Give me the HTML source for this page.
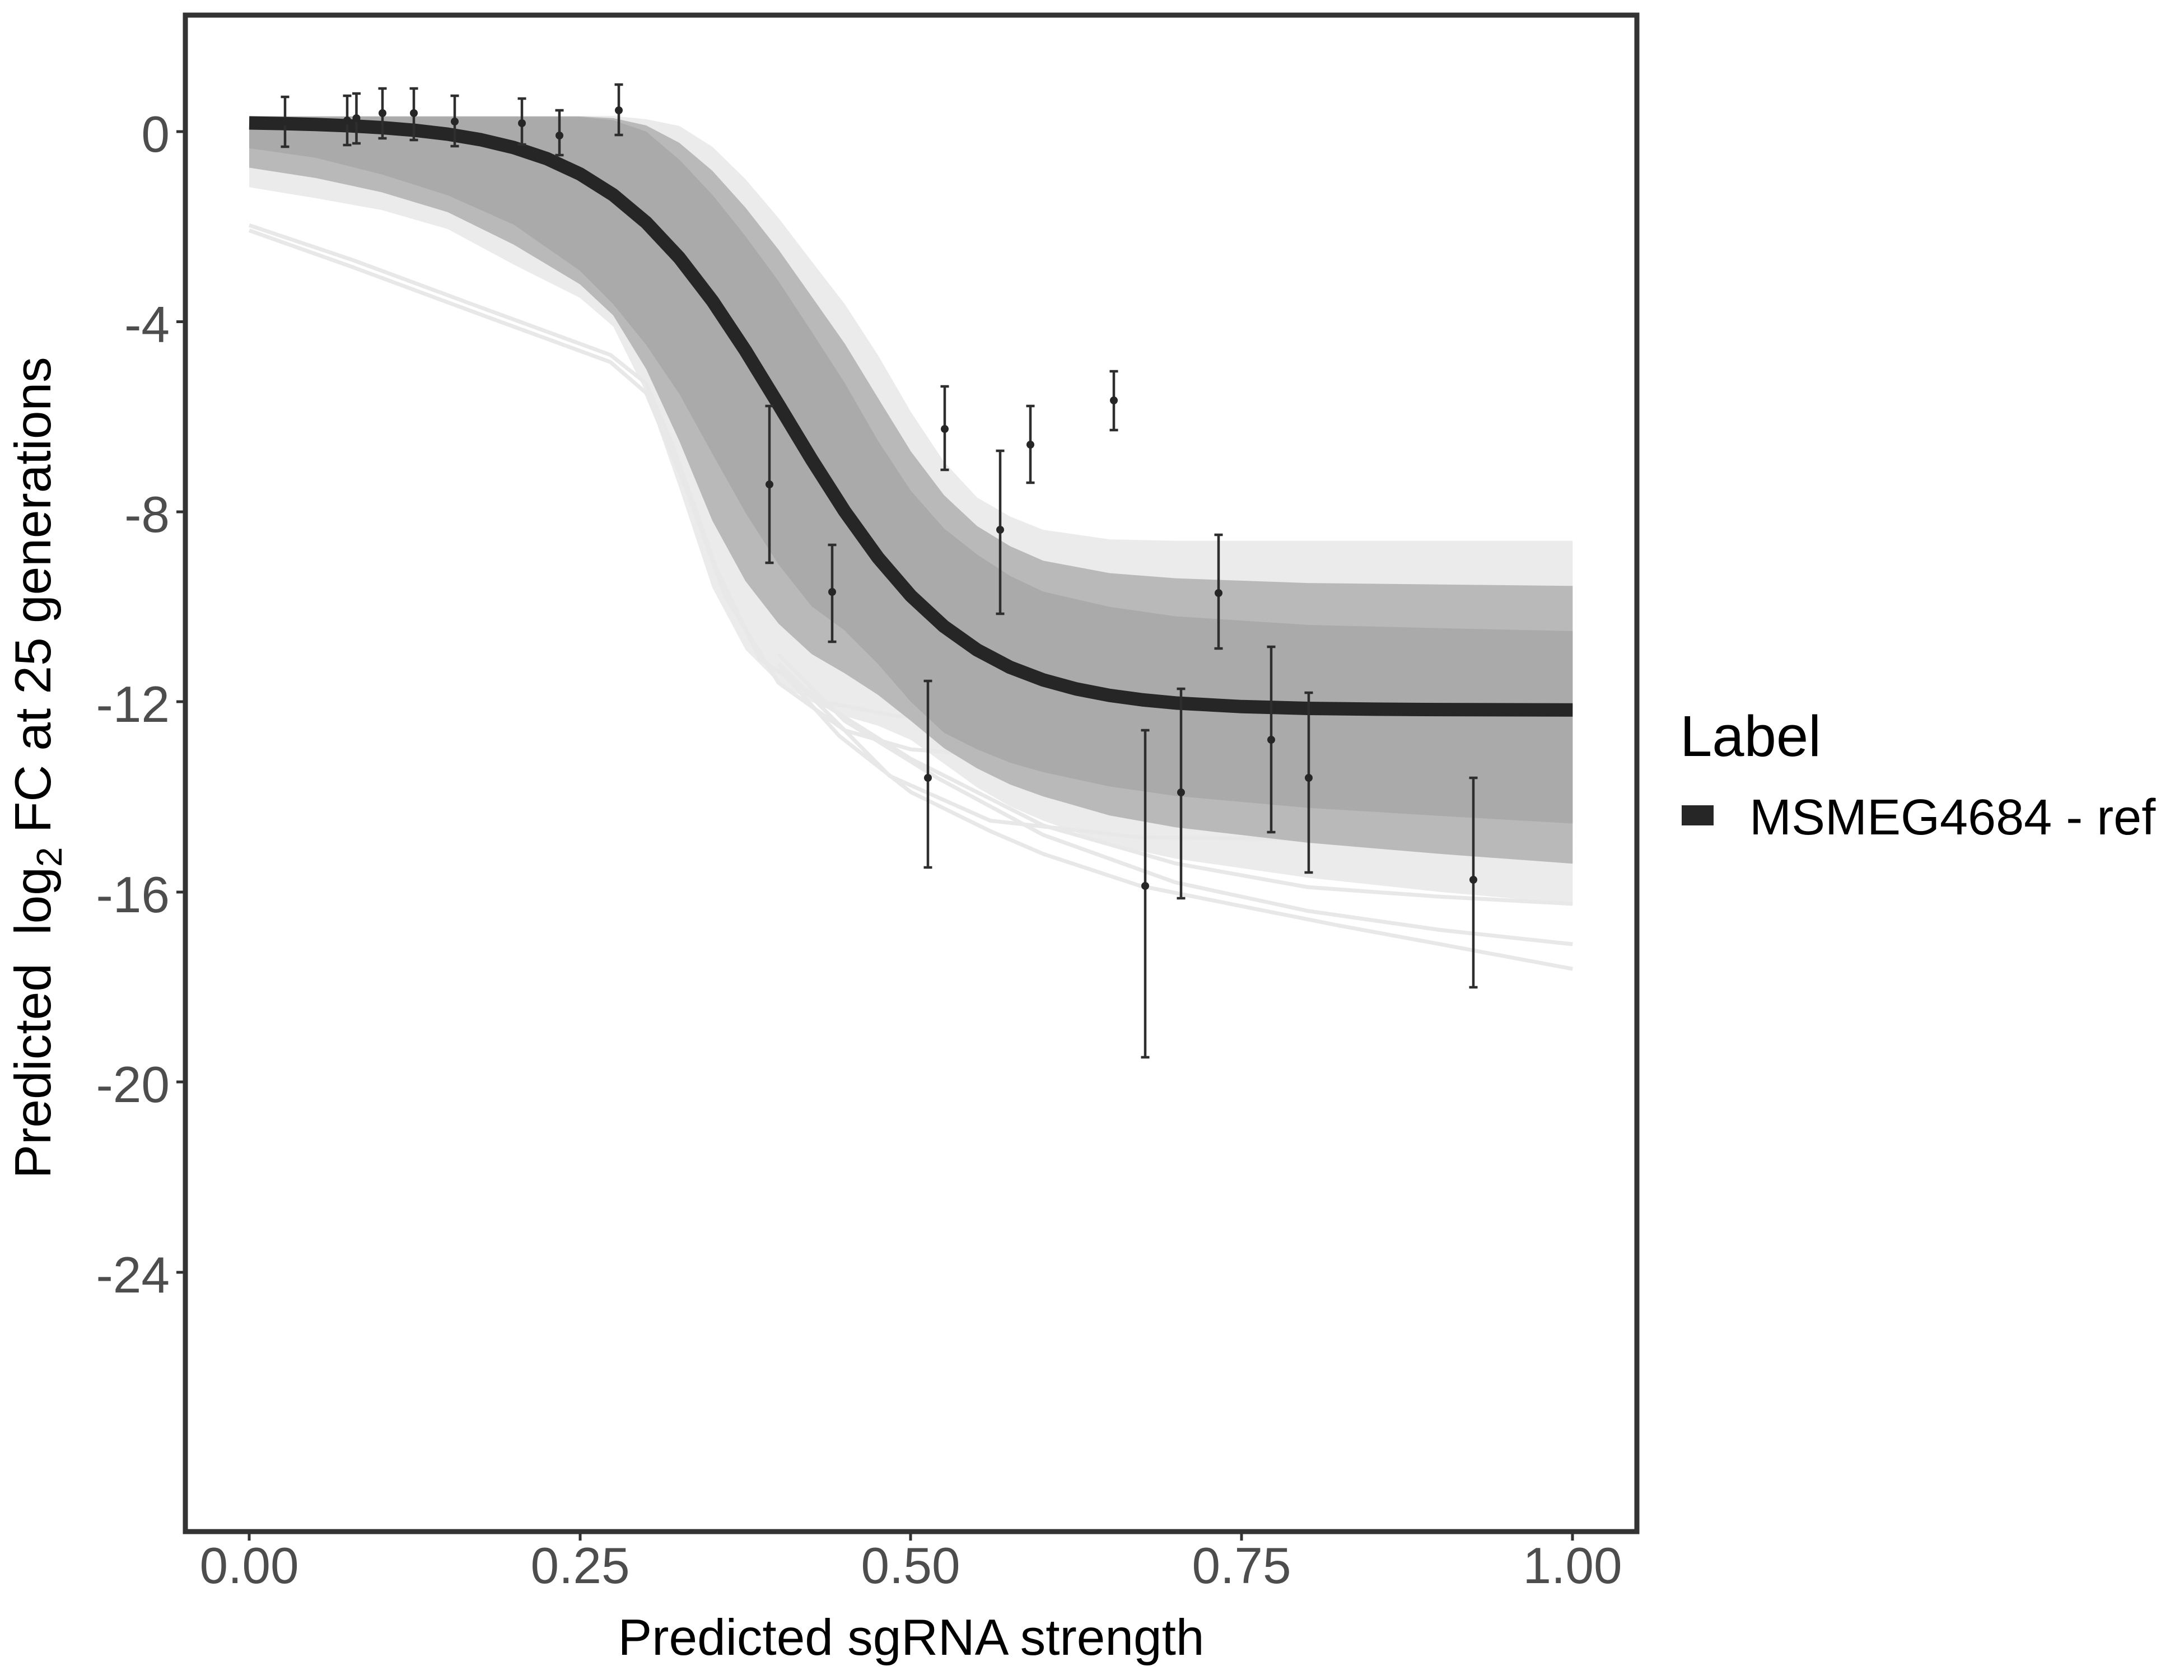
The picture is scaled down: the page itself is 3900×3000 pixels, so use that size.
<!DOCTYPE html>
<html>
<head>
<meta charset="utf-8">
<style>
  html, body { margin: 0; padding: 0; background: #ffffff; }
  svg { display: block; }
  text { font-family: "Liberation Sans", Arial, sans-serif; }
</style>
</head>
<body>
<svg xmlns="http://www.w3.org/2000/svg" width="3900" height="3000" viewBox="0 0 3900 3000">
  <rect x="0" y="0" width="3900" height="3000" fill="#ffffff"/>

  <!-- data-space group: x 0..1 -> 445..2808.3 ; y value -> 235 - 84.86*v -->
  <g transform="translate(445,235) scale(2363.3,-84.86)">
    <!-- faint envelope -->
    <polygon fill="#ebebeb" points="0,0.33 0.05,0.33 0.1,0.33 0.15,0.33 0.2,0.33 0.25,0.33 0.275,0.33 0.3,0.26 0.325,0.12 0.35,-0.32 0.375,-1.0 0.4,-1.82 0.425,-2.73 0.45,-3.63 0.475,-4.7 0.5,-5.9 0.525,-6.95 0.55,-7.7 0.575,-8.1 0.6,-8.38 0.65,-8.58 0.7,-8.61 0.8,-8.61 0.9,-8.61 1,-8.61 1,-16.25 0.9,-16.0 0.8,-15.7 0.7,-15.3 0.65,-15.0 0.6,-14.5 0.575,-14.2 0.55,-13.8 0.525,-13.3 0.5,-12.8 0.475,-12.5 0.45,-12.3 0.425,-12.0 0.4,-11.6 0.375,-10.9 0.35,-9.6 0.325,-7.5 0.3,-5.5 0.275,-4.1 0.25,-3.5 0.2,-2.8 0.15,-2.05 0.1,-1.65 0.05,-1.4 0,-1.17"/>
    <!-- individual faint lines -->
    <g fill="none" stroke="#e8e8e8" stroke-width="7">
      <polyline vector-effect="non-scaling-stroke" points="0,-1.97 0.078,-2.7 0.175,-3.7 0.273,-4.7 0.3,-5.3 0.32,-6.6 0.353,-9.2 0.386,-11.1 0.434,-12.0 0.489,-12.3 0.6,-12.4 1,-12.45"/>
      <polyline vector-effect="non-scaling-stroke" points="0,-2.08 0.078,-2.85 0.175,-3.85 0.273,-4.85 0.3,-5.5 0.33,-7.5 0.36,-9.8 0.4,-11.6 0.45,-12.6 0.5,-13.0 0.6,-13.2 1,-13.3"/>
      <polyline vector-effect="non-scaling-stroke" points="0.4,-11.3 0.446,-12.72 0.5,-13.9 0.56,-14.72 0.6,-15.2 0.673,-15.87 0.75,-16.3 0.824,-16.71 0.9,-17.1 1,-17.62"/>
      <polyline vector-effect="non-scaling-stroke" points="0.4,-11.0 0.45,-12.4 0.52,-13.6 0.6,-14.8 0.7,-15.8 0.8,-16.4 0.9,-16.8 1,-17.1"/>
      <polyline vector-effect="non-scaling-stroke" points="0.4,-11.2 0.45,-12.6 0.484,-13.56 0.56,-14.5 0.673,-14.85 1,-14.94"/>
      <polyline vector-effect="non-scaling-stroke" points="0.42,-11.8 0.5,-13.2 0.6,-14.6 0.7,-15.4 0.8,-15.9 0.9,-16.1 1,-16.25"/>
    </g>
    <!-- medium envelope -->
    <polygon fill="#b9b9b9" points="0,0.32 0.05,0.32 0.1,0.32 0.15,0.32 0.2,0.32 0.25,0.32 0.275,0.285 0.3,0.13 0.325,-0.235 0.35,-0.825 0.375,-1.6 0.4,-2.485 0.425,-3.47 0.45,-4.46 0.475,-5.6 0.5,-6.73 0.525,-7.65 0.55,-8.3 0.575,-8.725 0.6,-9.03 0.65,-9.29 0.7,-9.4 0.8,-9.5 0.9,-9.53 1,-9.56 1,-15.405 0.9,-15.2 0.8,-14.965 0.7,-14.64 0.65,-14.39 0.6,-13.99 0.575,-13.74 0.55,-13.4 0.525,-12.975 0.5,-12.4 0.475,-11.85 0.45,-11.4 0.425,-10.995 0.4,-10.355 0.375,-9.46 0.35,-8.19 0.325,-6.51 0.3,-5.0 0.275,-3.865 0.25,-3.215 0.2,-2.38 0.15,-1.695 0.1,-1.275 0.05,-0.975 0,-0.76"/>
    <!-- dense core -->
    <polygon fill="#aaaaaa" points="0,0.31 0.05,0.31 0.1,0.31 0.15,0.31 0.2,0.31 0.25,0.31 0.275,0.24 0.3,0.0 0.325,-0.59 0.35,-1.33 0.375,-2.2 0.4,-3.15 0.425,-4.21 0.45,-5.29 0.475,-6.5 0.5,-7.56 0.525,-8.35 0.55,-8.9 0.575,-9.35 0.6,-9.68 0.65,-10.0 0.7,-10.2 0.8,-10.38 0.9,-10.45 1,-10.51 1,-14.56 0.9,-14.4 0.8,-14.23 0.7,-13.98 0.65,-13.78 0.6,-13.48 0.575,-13.28 0.55,-13.0 0.525,-12.65 0.5,-12.0 0.475,-11.2 0.45,-10.5 0.425,-9.99 0.4,-9.11 0.375,-8.02 0.35,-6.78 0.325,-5.52 0.3,-4.49 0.275,-3.63 0.25,-2.93 0.2,-1.96 0.15,-1.34 0.1,-0.9 0.05,-0.55 0,-0.35"/>
    <!-- main fitted curve -->
    <polyline fill="none" stroke="#262626" stroke-width="24" stroke-linejoin="round" vector-effect="non-scaling-stroke"
      points="0,0.182 0.025,0.169 0.05,0.150 0.075,0.123 0.1,0.084 0.125,0.027 0.15,-0.054 0.175,-0.171 0.2,-0.337 0.225,-0.570 0.25,-0.893 0.275,-1.331 0.3,-1.913 0.325,-2.656 0.35,-3.562 0.375,-4.611 0.4,-5.748 0.425,-6.901 0.45,-7.993 0.475,-8.961 0.5,-9.770 0.525,-10.413 0.55,-10.907 0.575,-11.274 0.6,-11.539 0.625,-11.729 0.65,-11.864 0.675,-11.958 0.7,-12.024 0.75,-12.100 0.8,-12.137 0.85,-12.154 0.9,-12.163 1,-12.170"/>
  </g>

  <!-- error bars -->
  <g stroke="#2e2e2e" stroke-width="4.5" fill="none">
    <path d="M509,173V262 M501.5,173H516.5 M501.5,262H516.5"/>
    <path d="M620,171V259 M612.5,171H627.5 M612.5,259H627.5"/>
    <path d="M636.5,167V256 M629,167H644 M629,256H644"/>
    <path d="M683,158V247 M675.5,158H690.5 M675.5,247H690.5"/>
    <path d="M739,158V250 M731.5,158H746.5 M731.5,250H746.5"/>
    <path d="M812,171V261 M804.5,171H819.5 M804.5,261H819.5"/>
    <path d="M932,176V258 M924.5,176H939.5 M924.5,258H939.5"/>
    <path d="M999,197V277 M991.5,197H1006.5 M991.5,277H1006.5"/>
    <path d="M1105,151V241 M1097.5,151H1112.5 M1097.5,241H1112.5"/>
    <path d="M1374,725V1005 M1366.5,725H1381.5 M1366.5,1005H1381.5"/>
    <path d="M1486,973V1146 M1478.5,973H1493.5 M1478.5,1146H1493.5"/>
    <path d="M1657,1216V1549 M1649.5,1216H1664.5 M1649.5,1549H1664.5"/>
    <path d="M1687,690V839 M1679.5,690H1694.5 M1679.5,839H1694.5"/>
    <path d="M1786,805V1096 M1778.5,805H1793.5 M1778.5,1096H1793.5"/>
    <path d="M1840,725V862 M1832.5,725H1847.5 M1832.5,862H1847.5"/>
    <path d="M1989,663V768 M1981.5,663H1996.5 M1981.5,768H1996.5"/>
    <path d="M2045,1304V1888 M2037.5,1304H2052.5 M2037.5,1888H2052.5"/>
    <path d="M2109,1230V1604 M2101.5,1230H2116.5 M2101.5,1604H2116.5"/>
    <path d="M2176,955V1158 M2168.5,955H2183.5 M2168.5,1158H2183.5"/>
    <path d="M2270,1155V1486 M2262.5,1155H2277.5 M2262.5,1486H2277.5"/>
    <path d="M2337,1237V1558 M2329.5,1237H2344.5 M2329.5,1558H2344.5"/>
    <path d="M2631,1389V1763 M2623.5,1389H2638.5 M2623.5,1763H2638.5"/>
  </g>
  <!-- points -->
  <g fill="#262626">
    <circle cx="509" cy="217" r="7"/>
    <circle cx="620" cy="215" r="7"/>
    <circle cx="636.5" cy="211" r="7"/>
    <circle cx="683" cy="202" r="7"/>
    <circle cx="739" cy="202" r="7"/>
    <circle cx="812" cy="217" r="7"/>
    <circle cx="932" cy="220" r="7"/>
    <circle cx="999" cy="242" r="7"/>
    <circle cx="1105" cy="197" r="7"/>
    <circle cx="1374" cy="865" r="7"/>
    <circle cx="1486" cy="1057" r="7"/>
    <circle cx="1657" cy="1389" r="7"/>
    <circle cx="1687" cy="766" r="7"/>
    <circle cx="1786" cy="946" r="7"/>
    <circle cx="1840" cy="794" r="7"/>
    <circle cx="1989" cy="715" r="7"/>
    <circle cx="2045" cy="1582" r="7"/>
    <circle cx="2109" cy="1415" r="7"/>
    <circle cx="2176" cy="1059" r="7"/>
    <circle cx="2270" cy="1321" r="7"/>
    <circle cx="2337" cy="1389" r="7"/>
    <circle cx="2631" cy="1571" r="7"/>
  </g>

  <!-- panel border -->
  <rect x="331" y="27" width="2592" height="2708" fill="none" stroke="#333333" stroke-width="9"/>

  <!-- ticks -->
  <g stroke="#333333" stroke-width="5">
    <path d="M315,235H327 M315,574.5H327 M315,914H327 M315,1253H327 M315,1593H327 M315,1932H327 M315,2272H327"/>
    <path d="M445,2739V2751 M1036,2739V2751 M1626,2739V2751 M2217,2739V2751 M2808,2739V2751"/>
  </g>
  <g fill="#4d4d4d" font-size="91" text-anchor="end">
    <text x="303" y="271">0</text>
    <text x="303" y="610.5">-4</text>
    <text x="303" y="950">-8</text>
    <text x="303" y="1289">-12</text>
    <text x="303" y="1629">-16</text>
    <text x="303" y="1968">-20</text>
    <text x="303" y="2308">-24</text>
  </g>
  <g fill="#4d4d4d" font-size="91" text-anchor="middle">
    <text x="445" y="2827">0.00</text>
    <text x="1036" y="2827">0.25</text>
    <text x="1626" y="2827">0.50</text>
    <text x="2217" y="2827">0.75</text>
    <text x="2808" y="2827">1.00</text>
  </g>

  <!-- axis titles -->
  <text x="1627" y="2955" font-size="91" fill="#000000" text-anchor="middle">Predicted sgRNA strength</text>
  <text transform="translate(90,1371) rotate(-90)" font-size="91" fill="#000000" text-anchor="middle">Predicted&#160; log<tspan font-size="64" dy="20">2</tspan><tspan dy="-20"> FC at 25 generations</tspan></text>

  <!-- legend -->
  <text x="3000" y="1350" font-size="103" fill="#000000">Label</text>
  <rect x="3003" y="1438" width="57" height="36" fill="#262626"/>
  <text x="3124" y="1490" font-size="90" fill="#000000">MSMEG4684 - ref</text>
</svg>
</body>
</html>
